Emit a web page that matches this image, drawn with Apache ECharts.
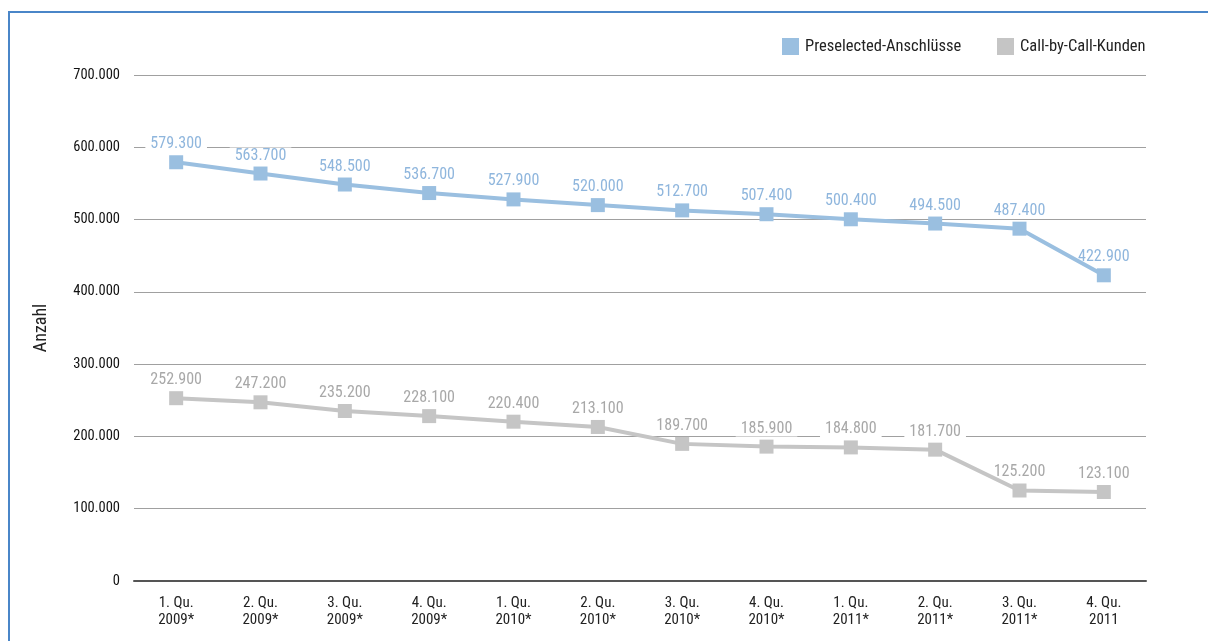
<!DOCTYPE html>
<html>
<head>
<meta charset="utf-8">
<script src="https://cdn.jsdelivr.net/npm/echarts@6/dist/echarts.min.js"></script>
<style>
  html, body { margin: 0; padding: 0; background: #fff; }
  #chart { width: 1208px; height: 641px; }
</style>
</head>
<body>
<div id="chart"></div>
<script>
// Quarterly figures (asterisk = provisional)
const quarters = ['1. Qu.\n2009*', '2. Qu.\n2009*', '3. Qu.\n2009*', '4. Qu.\n2009*',
                  '1. Qu.\n2010*', '2. Qu.\n2010*', '3. Qu.\n2010*', '4. Qu.\n2010*',
                  '1. Qu.\n2011*', '2. Qu.\n2011*', '3. Qu.\n2011*', '4. Qu.\n2011'];
const preselected = [579300, 563700, 548500, 536700, 527900, 520000, 512700, 507400, 500400, 494500, 487400, 422900];
const callByCall = [252900, 247200, 235200, 228100, 220400, 213100, 189700, 185900, 184800, 181700, 125200, 123100];
const seriesNames = ['Preselected-Anschlüsse', 'Call-by-Call-Kunden'];

const FONT = '"Liberation Sans Narrow", "Roboto Condensed", "Open Sans Condensed", "Noto Sans Condensed", "DejaVu Sans Condensed", "Liberation Sans", sans-serif';
const BLUE = '#9abfe0';
const GREY = '#c5c5c5';
const BLUE_TEXT = '#8fb6dd';
const GREY_TEXT = '#a8a8a8';
const CLEAR = 'rgba(255,255,255,0)';

// German thousands separator
function fmt(v) {
  return String(Math.round(v)).replace(/\B(?=(\d{3})+(?!\d))/g, '.');
}

const chart = echarts.init(document.getElementById('chart'), null, { renderer: 'canvas' });

// Visible line with square markers, drawn above the value labels
function lineSeries(name, data, color) {
  return {
    name: name,
    type: 'line',
    z: 4,
    data: data,
    symbol: 'rect',
    symbolSize: 14,
    lineStyle: { color: color, width: 4 },
    itemStyle: { color: color },
    label: { show: false },
    emphasis: { disabled: true }
  };
}

// Value labels on a white plate so the grid lines break around them
function labelSeries(name, data, color) {
  return {
    name: name + ' (Werte)',
    type: 'line',
    z: 2,
    data: data,
    symbol: 'rect',
    symbolSize: 14,
    lineStyle: { color: CLEAR, width: 0 },
    itemStyle: { color: CLEAR },
    silent: true,
    label: {
      show: true,
      position: 'top',
      distance: 3,
      color: color,
      fontFamily: FONT,
      fontSize: 16,
      backgroundColor: '#fff',
      padding: [0, 5],
      formatter: p => fmt(p.value)
    },
    emphasis: { disabled: true }
  };
}

const legendBase = {
  top: 38,
  padding: 0,
  itemWidth: 17,
  itemHeight: 17,
  itemGap: 6,
  icon: 'rect',
  textStyle: { fontFamily: FONT, fontSize: 16.5, color: '#222', padding: [0, 0, 0, 1] }
};

chart.setOption({
  animation: false,
  backgroundColor: '#fff',
  graphic: [{
    type: 'rect',
    shape: { x: 9, y: 12, width: 1240, height: 680 },
    style: { fill: 'none', stroke: '#4a86c8', lineWidth: 2 },
    z: 100
  }],
  legend: [
    Object.assign({ left: 782, data: [{ name: seriesNames[0], itemStyle: { color: BLUE } }] }, legendBase),
    Object.assign({ left: 997, data: [{ name: seriesNames[1], itemStyle: { color: GREY } }] }, legendBase)
  ],
  grid: { left: 134, right: 62, top: 75, bottom: 60 },
  xAxis: {
    type: 'category',
    data: quarters,
    boundaryGap: true,
    axisLine: { lineStyle: { color: '#555', width: 2 } },
    axisTick: { show: false },
    axisLabel: {
      interval: 0,
      margin: 14,
      fontFamily: FONT,
      fontSize: 15,
      color: '#222',
      lineHeight: 17,
      align: 'center'
    }
  },
  yAxis: {
    type: 'value',
    min: 0,
    max: 700000,
    interval: 100000,
    name: 'Anzahl',
    nameLocation: 'middle',
    nameGap: 84,
    nameRotate: 90,
    nameTextStyle: { fontFamily: FONT, fontSize: 18, color: '#222' },
    axisLine: { show: false },
    axisTick: { show: false },
    splitLine: { lineStyle: { color: '#a0a0a0', width: 1.2 } },
    axisLabel: {
      margin: 14,
      fontFamily: FONT,
      fontSize: 14.5,
      color: '#111',
      formatter: v => fmt(v)
    }
  },
  series: [
    labelSeries(seriesNames[0], preselected, BLUE_TEXT),
    labelSeries(seriesNames[1], callByCall, GREY_TEXT),
    lineSeries(seriesNames[0], preselected, BLUE),
    lineSeries(seriesNames[1], callByCall, GREY)
  ]
});
</script>
</body>
</html>
